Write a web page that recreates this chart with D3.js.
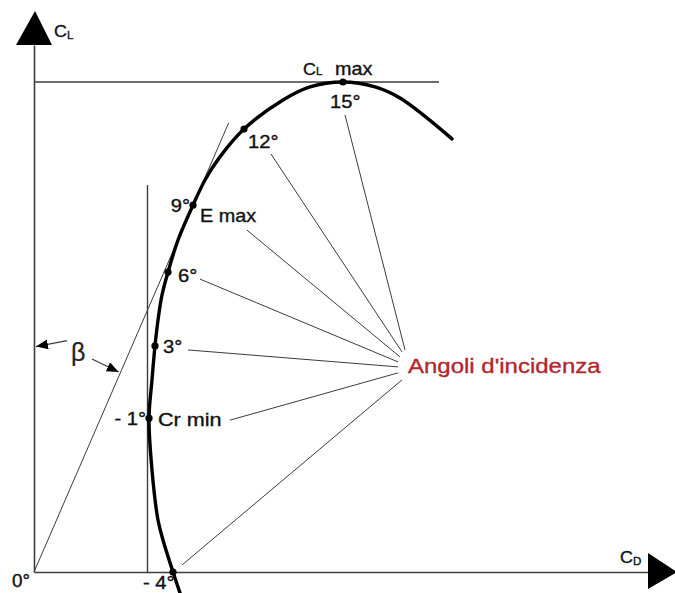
<!DOCTYPE html>
<html>
<head>
<meta charset="utf-8">
<script src="https://cdn.jsdelivr.net/npm/d3@7"></script>
<style>
  html, body { margin: 0; padding: 0; background: #fff; }
  svg { display: block; }
</style>
</head>
<body>
<svg id="chart" width="675" height="593"></svg>
<script>
// Drag polar of a wing section: lift coefficient C_L against drag coefficient C_D.

// Traced polar curve (C_D, C_L), from below zero lift up past the stall
const traceCD = [0.0292, 0.0278, 0.0258, 0.0248, 0.0236, 0.0230, 0.0236, 0.0242, 0.0248, 0.0256,
                 0.0268, 0.0288, 0.0318, 0.0342, 0.0370, 0.0420, 0.0498, 0.0552, 0.0618, 0.0682,
                 0.0732, 0.0836];
const traceCL = [-0.064, 0.000, 0.098, 0.159, 0.312, 0.471, 0.588, 0.692, 0.771, 0.848,
                 0.918, 1.016, 1.123, 1.200, 1.267, 1.356, 1.445, 1.485, 1.500, 1.485,
                 1.451, 1.326];

// Marked angles of incidence on the polar
const angleLabels = ["- 4°", "- 1°", "3°", "6°", "9°", "12°", "15°"];
const angleCD = [0.0278, 0.0230, 0.0242, 0.0268, 0.0318, 0.0420, 0.0618];
const angleCL = [0.000, 0.471, 0.692, 0.918, 1.123, 1.356, 1.500];

// Named points of the polar
const noteLabels = ["Cr min", "E max", "max"];
const noteAngle = ["- 1°", "9°", "15°"];

const axisLabelY = "C", axisSubY = "L";
const axisLabelX = "C", axisSubX = "D";
const hubLabel = "Angoli d'incidenza";
const originLabel = "0°";
const betaLabel = "β";

// ---------------------------------------------------------------
const svg = d3.select("#chart");
const FONT = '"Liberation Sans", Arial, Helvetica, sans-serif';
const ink = "#111";
const thin = "#3c3c3c";

const x = d3.scaleLinear().domain([0, 0.12]).range([34, 634]);
const y = d3.scaleLinear().domain([0, 1.5]).range([572, 82]);

const axisCDEnd = 0.1228;   // end of the C_D axis shaft
const axisCLEnd = 1.613;    // end of the C_L axis shaft

// Axis shafts through d3 axes with no ticks
const xAxisScale = x.copy().domain([0, axisCDEnd]).range([x(0), x(axisCDEnd)]);
const yAxisScale = y.copy().domain([0, axisCLEnd]).range([y(0), y(axisCLEnd)]);

svg.append("g")
  .attr("transform", `translate(0,${y(0)})`)
  .call(d3.axisBottom(xAxisScale).tickValues([]).tickSizeOuter(0))
  .call(g => g.select(".domain").attr("stroke", thin).attr("stroke-width", 1.6));

svg.append("g")
  .attr("transform", `translate(${x(0)},0)`)
  .call(d3.axisLeft(yAxisScale).tickValues([]).tickSizeOuter(0))
  .call(g => g.select(".domain").attr("stroke", thin).attr("stroke-width", 1.6));

// Arrowheads
{
  const ax = x(0), ay = y(axisCLEnd);
  svg.append("path")
    .attr("d", `M${ax - 18},${ay} L${ax + 18},${ay} L${ax + 1},${ay - 34} Z`)
    .attr("fill", "#000");
  const bx = x(axisCDEnd), by = y(0);
  svg.append("path")
    .attr("d", `M${bx},${by - 19} L${bx},${by + 17} L${bx + 29},${by} Z`)
    .attr("fill", "#000");
}

// Text helper (slightly widened, slightly heavier sans-serif)
function label(px, py, str, opts = {}) {
  const size = opts.size || 18, sx = opts.sx || 1.12;
  const fill = opts.fill || ink;
  return svg.append("text")
    .attr("transform", `translate(${px},${py}) scale(${sx},1)`)
    .attr("text-anchor", opts.anchor || "start")
    .attr("font-family", FONT)
    .attr("font-size", size)
    .attr("fill", fill)
    .attr("stroke", fill)
    .attr("stroke-width", 0.35)
    .text(str);
}

// Axis titles C_L and C_D
{
  const t = label(x(0) + 20, y(axisCLEnd) - 8, axisLabelY, { size: 17, sx: 1.05 });
  t.append("tspan").attr("font-size", 11).attr("dy", 2).text(axisSubY);
  const u = label(x(0.1172), y(0) - 9, axisLabelX, { size: 17, sx: 1.05 });
  u.append("tspan").attr("font-size", 11).attr("dy", 2).text(axisSubX);
}

// Horizontal line at C_L max
const iMax = angleLabels.indexOf("15°");
svg.append("line")
  .attr("x1", x(0)).attr("x2", x(0.081))
  .attr("y1", y(angleCL[iMax])).attr("y2", y(angleCL[iMax]))
  .attr("stroke", thin).attr("stroke-width", 1.5);

// Vertical line at minimum drag
const iMin = angleLabels.indexOf("- 1°");
svg.append("line")
  .attr("x1", x(angleCD[iMin]) - 1.5).attr("x2", x(angleCD[iMin]) - 1.5)
  .attr("y1", y(0)).attr("y2", y(1.185))
  .attr("stroke", thin).attr("stroke-width", 1.4);

// Tangent from the origin through the best-efficiency point
const iE = angleLabels.indexOf("9°");
const tanSlope = angleCD[iE] / angleCL[iE];
const tanTopCL = 1.375;
svg.append("line")
  .attr("x1", x(0)).attr("y1", y(0))
  .attr("x2", x(tanTopCL * tanSlope)).attr("y2", y(tanTopCL))
  .attr("stroke", thin).attr("stroke-width", 1);

// Beta angle marker between the C_L axis and the tangent
{
  const defs = svg.append("defs");
  defs.append("marker")
    .attr("id", "head").attr("viewBox", "0 0 12 10")
    .attr("refX", 12).attr("refY", 5)
    .attr("markerWidth", 12).attr("markerHeight", 10)
    .attr("markerUnits", "userSpaceOnUse")
    .attr("orient", "auto")
    .append("path").attr("d", "M0,0 L12,5 L0,10 Z").attr("fill", "#000");

  const leftCL = 0.69, rightCL = 0.612;
  svg.append("line")
    .attr("x1", x(0) + 33).attr("y1", y(leftCL) - 6)
    .attr("x2", x(0) + 2).attr("y2", y(leftCL))
    .attr("stroke", thin).attr("stroke-width", 1.2)
    .attr("marker-end", "url(#head)");
  svg.append("line")
    .attr("x1", x(0) + 58).attr("y1", y(rightCL) - 13)
    .attr("x2", x(rightCL * tanSlope) - 2).attr("y2", y(rightCL))
    .attr("stroke", thin).attr("stroke-width", 1.2)
    .attr("marker-end", "url(#head)");
  label(x(0) + 37, y(leftCL) + 14, betaLabel, { size: 25, sx: 1.0 })
    .attr("fill", "#222").attr("stroke", "#222").attr("stroke-width", 0.2);
}

// Leader lines from every marked angle to the collective caption
const hubCD = 0.0732, hubCL = 0.634;
const leaders = {
  "15°":  { from: [2, 33],  to: [5, -15] },
  "12°":  { from: [27, 25], to: [2, -13] },
  "9°":   { from: [54, 25], to: [0, -8] },
  "6°":   { from: [32, 7],  to: [-2, -3] },
  "3°":   { from: [33, 4],  to: [-2, 2] },
  "- 1°": { from: [81, 2],  to: [-2, 8] },
  "- 4°": { from: [9, -7],  to: [2, 15] }
};
angleLabels.forEach((a, i) => {
  const L = leaders[a];
  svg.append("line")
    .attr("x1", x(angleCD[i]) + L.from[0]).attr("y1", y(angleCL[i]) + L.from[1])
    .attr("x2", x(hubCD) + L.to[0]).attr("y2", y(hubCL) + L.to[1])
    .attr("stroke", thin).attr("stroke-width", 1);
});

// Polar curve
const curve = d3.line()
  .x(i => x(traceCD[i]))
  .y(i => y(traceCL[i]))
  .curve(d3.curveCatmullRom.alpha(0.5));
svg.append("path")
  .attr("d", curve(d3.range(traceCD.length)))
  .attr("fill", "none")
  .attr("stroke", "#000")
  .attr("stroke-width", 3.4)
  .attr("stroke-linecap", "round");

// Marked points
svg.selectAll("circle.pt")
  .data(angleLabels)
  .join("circle")
  .attr("class", "pt")
  .attr("cx", (d, i) => x(angleCD[i]))
  .attr("cy", (d, i) => y(angleCL[i]))
  .attr("r", 3.6)
  .attr("fill", "#000");

// Angle labels
const angleText = {
  "15°":  { dx: -13, dy: 26, anchor: "start" },
  "12°":  { dx: 4,   dy: 19, anchor: "start" },
  "9°":   { dx: -3,  dy: 7,  anchor: "end" },
  "6°":   { dx: 10,  dy: 10, anchor: "start" },
  "3°":   { dx: 8,   dy: 7,  anchor: "start" },
  "- 1°": { dx: -3,  dy: 7,  anchor: "end" },
  "- 4°": { dx: -30, dy: 17, anchor: "start" }
};
angleLabels.forEach((a, i) => {
  const t = angleText[a];
  label(x(angleCD[i]) + t.dx, y(angleCL[i]) + t.dy, a, { anchor: t.anchor });
});

// Named points
const noteText = {
  "Cr min": { dx: 9,   dy: 8 },
  "E max":  { dx: 7,   dy: 17 },
  "max":    { dx: -8,  dy: -7 }
};
noteLabels.forEach((n, k) => {
  const i = angleLabels.indexOf(noteAngle[k]);
  const t = noteText[n];
  const px = x(angleCD[i]) + t.dx, py = y(angleCL[i]) + t.dy;
  if (n === "max") {
    const c = label(px - 32, py, "C", { size: 17, sx: 1.05 });
    c.append("tspan").attr("font-size", 11).text("L");
    label(px, py, n, { size: 18, sx: 1.1 });
  } else {
    label(px, py, n, { size: 18, sx: n === "Cr min" ? 1.2 : 1.1 });
  }
});

// Origin label
label(x(0) - 22, y(0) + 15, originLabel, { size: 18, sx: 1.05 });

// Caption for the angles of incidence
label(x(hubCD) + 8, y(hubCL) + 8, hubLabel, { size: 20, sx: 1.2, fill: "#b3262d" });
</script>
</body>
</html>
